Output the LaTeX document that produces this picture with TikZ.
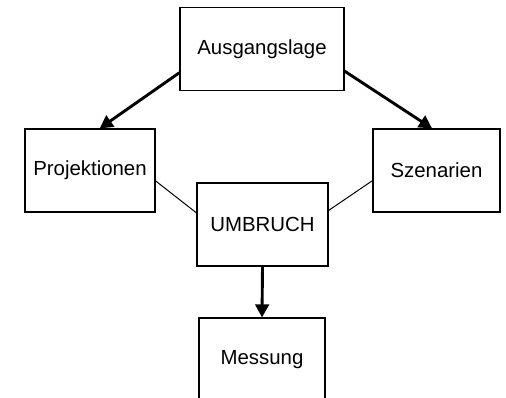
\documentclass[tikz,border=0pt]{standalone}
\usepackage{fontspec}
\setmainfont{Liberation Sans}
\usetikzlibrary{arrows.meta}

\tikzset{
    kasten/.style={draw, line width=0.6pt, minimum height=41.5pt, inner sep=0pt,
                   font=\fontsize{10.2}{12}\selectfont},
    pfeil/.style={line width=1.45pt, -{Triangle[length=6.5pt,width=6.8pt]}},
    linie/.style={line width=0.5pt}
}

\begin{document}
\begin{tikzpicture}[x=0.5pt,y=-0.5pt]
            % Bildrand
            \clip (0,0) rectangle (506,397);
            \useasboundingbox (0,0) rectangle (506,397);

            % Kaesten
            \node[kasten, minimum width=82pt] (aus) at (262,49) {Ausgangslage};
            \node[kasten, minimum width=65pt] (proj) at (90,170.5) {Projektionen};
            \node[kasten, minimum width=63.5pt] (szen) at (436.5,170.5) {Szenarien};
            \node[kasten, minimum width=65.5pt] (umb) at (262.5,224.5) {UMBRUCH};
            \node[kasten, minimum width=63pt] (mess) at (262,359.5) {Messung};

            % dicke Pfeile
            \draw[pfeil] (aus.196) -- (proj.77);
            \draw[pfeil] (aus.-15) -- (szen.96);
            \draw[pfeil] (umb.south) -- (mess.north);

            % duenne Verbindungen
            \draw[linie] (proj.-9) -- (umb.170);
            \draw[linie] (szen.189) -- (umb.12);
        \end{tikzpicture}
\end{document}
